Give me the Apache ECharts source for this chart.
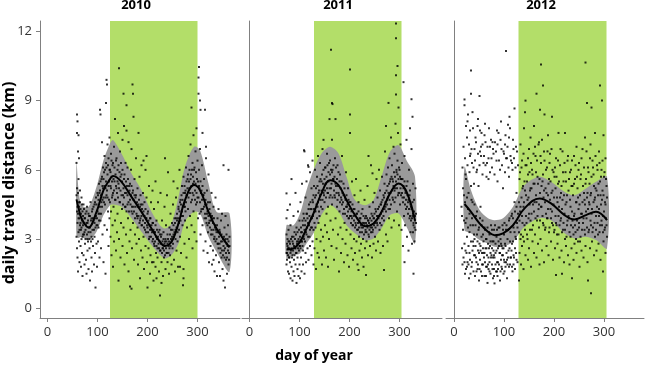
<!DOCTYPE html>
<html>
<head>
<meta charset="utf-8">
<script src="https://cdn.jsdelivr.net/npm/echarts@6/dist/echarts.min.js"></script>
<style>
  html, body { margin: 0; padding: 0; background: #fff; }
  #main { width: 645px; height: 365px; }
</style>
</head>
<body>
<div id="main"></div>
<script>
// panel titles and axis ticks
const years = ["2010", "2011", "2012"];
const xTicks = [0, 100, 200, 300];
const yTicks = [0, 3, 6, 9, 12];

// green season band per year [start day, end day]
const season2010 = [125, 300];
const season2011 = [129, 304];
const season2012 = [129, 305];

// smoothed fit with confidence band
const fitDays2010 = [58, 62, 68, 82, 98, 112, 125, 131, 148, 168, 188, 208, 225, 235, 248, 262, 275, 293, 305, 322, 338, 364];
const fitMean2010 = [4.72, 4.35, 3.9, 3.5, 4.18, 5.12, 5.6, 5.73, 5.48, 4.83, 4.18, 3.46, 2.88, 2.7, 2.88, 3.68, 4.69, 5.34, 5.12, 4.18, 3.46, 2.64];
const fitUpper2010 = [6.35, 5.2, 4.47, 4.4, 5.27, 6.42, 7.14, 7.29, 6.71, 5.84, 5.12, 4.18, 3.6, 3.46, 3.68, 4.83, 6.13, 7.0, 6.85, 5.41, 4.18, 4.11];
const fitLower2010 = [3.1, 3.05, 3.1, 2.96, 3.32, 4.04, 4.47, 4.5, 4.4, 3.9, 3.32, 2.74, 2.31, 2.16, 2.31, 2.81, 3.75, 4.18, 4.11, 3.1, 2.45, 1.58];

const fitDays2011 = [74, 88, 101, 114, 128, 144, 161, 178, 194, 211, 231, 248, 264, 281, 298, 314, 331];
const fitMean2011 = [2.55, 2.6, 2.88, 3.46, 4.11, 4.98, 5.55, 5.34, 4.69, 4.04, 3.56, 3.68, 4.18, 4.98, 5.41, 5.05, 3.8];
const fitUpper2011 = [3.6, 3.6, 4.11, 5.12, 5.99, 6.71, 7.0, 6.71, 5.7, 4.69, 4.47, 4.69, 5.7, 6.78, 7.07, 6.42, 5.7];
const fitLower2011 = [2.16, 2.31, 2.38, 2.81, 3.25, 4.04, 4.47, 4.18, 3.6, 3.25, 2.96, 3.03, 3.46, 4.04, 4.11, 3.53, 2.81];

const fitDays2012 = [21, 34, 51, 68, 81, 98, 118, 141, 171, 194, 221, 241, 264, 284, 306];
const fitMean2012 = [4.52, 4.18, 3.68, 3.32, 3.17, 3.25, 3.6, 4.33, 4.76, 4.55, 4.04, 3.85, 4.04, 4.18, 3.82];
const fitUpper2012 = [6.13, 5.12, 4.26, 3.9, 3.82, 3.9, 4.4, 5.34, 5.7, 5.48, 5.05, 4.9, 5.19, 5.48, 5.7];
const fitLower2012 = [3.39, 3.25, 2.96, 2.81, 2.67, 2.67, 2.88, 3.53, 3.9, 3.82, 3.25, 3.03, 3.1, 2.96, 2.6];

// daily observations [day of year, km] - spread / outliers
const obs2010 = [
  [58,4.9],[58,6.3],[58,3.1],[59,8.4],[59,7.6],[59,5.2],[59,2.6],[60,8.1],[60,4.4],[60,3.7],[60,2.2],[61,6.8],[61,4.1],[61,1.6],[62,7.5],[62,5.6],[62,3.3],[63,6.5],[63,4.6],[63,2.9],[64,3.9],[64,2.0],[65,5.1],[65,3.6],[66,4.3],[66,2.7],[67,3.4],[67,1.8],[68,4.8],[68,3.0],[69,3.8],[69,2.4],[70,4.2],[70,3.1],[70,1.4],
  [71,3.6],[72,4.5],[72,2.3],[73,3.2],[74,3.9],[74,1.9],[75,2.8],[76,4.1],[76,3.4],[77,2.1],[78,3.7],[78,1.5],[79,4.4],[80,3.0],[80,2.5],[81,3.8],[82,1.7],[82,3.3],[83,4.0],[84,2.6],[85,3.5],[85,1.2],[86,4.6],[87,2.9],[88,3.9],[88,2.2],[89,1.6],[90,3.4],[90,4.3],[91,2.7],[92,3.8],[93,1.9],[94,4.5],[94,3.1],[95,2.4],[96,0.9],[96,3.9],[97,4.8],[98,2.8],[98,3.6],[99,1.8],[100,4.2],[100,5.0],
  [101,2.9],[102,4.7],[102,3.5],[103,5.4],[104,2.2],[104,4.1],[105,8.6],[105,5.1],[106,8.4],[106,3.8],[107,4.9],[107,2.6],[108,5.6],[109,7.2],[109,4.4],[110,3.2],[110,5.3],[111,6.1],[112,4.8],[112,2.0],[113,5.9],[114,3.6],[114,6.6],[115,4.5],[116,5.2],[116,1.5],[117,8.9],[117,6.3],[118,9.9],[118,4.9],[119,9.7],[119,3.4],[120,5.8],[120,7.1],[121,4.2],[122,6.5],[122,2.7],[123,5.5],[124,7.4],[124,3.9],[125,6.0],[125,4.6],
  [126,5.3],[126,3.1],[127,4.2],[127,6.7],[128,2.3],[128,5.7],[129,4.8],[130,3.6],[130,6.2],[131,1.8],[131,5.0],[132,4.4],[133,7.0],[133,2.9],[134,5.5],[135,8.2],[135,3.8],[136,4.7],[137,6.4],[137,2.5],[138,5.2],[139,3.3],[140,6.0],[140,4.1],[141,7.6],[142,1.2],[142,5.4],[143,10.4],[143,3.0],[144,4.6],[145,6.8],[146,2.2],[146,5.1],[147,3.7],[148,5.8],[149,4.3],[150,7.3],[150,2.7],[151,4.9],[152,9.3],[152,3.5],[153,7.9],[153,5.6],[154,1.9],[155,4.4],[156,6.3],[157,3.2],[158,8.8],[158,7.7],[158,5.0],[159,2.4],[160,4.5],[160,6.1],
  [161,3.9],[162,7.2],[162,1.6],[163,5.3],[164,2.9],[165,4.7],[165,0.95],[166,3.4],[167,6.0],[168,6.9],[168,0.85],[168,4.2],[169,2.6],[170,9.7],[170,5.0],[171,9.3],[171,3.7],[172,8.3],[172,4.4],[173,2.1],[174,5.6],[175,3.2],[176,4.8],[177,6.5],[178,2.8],[179,4.0],[180,5.2],[180,3.5],[181,1.9],[182,7.6],[182,4.5],[183,3.0],[184,5.7],[185,1.3],[185,3.8],[186,4.9],[187,2.5],[188,6.2],[188,3.6],[189,4.3],[190,2.2],[191,5.0],[192,6.4],[192,3.1],[193,1.7],[194,4.6],[195,3.4],[196,6.0],[196,2.7],[197,3.9],[198,6.6],[198,4.8],[199,2.0],[200,0.9],[200,3.5],
  [201,4.2],[202,2.6],[203,5.3],[204,3.1],[205,1.5],[205,3.9],[206,2.3],[207,4.6],[208,3.4],[209,2.0],[210,5.1],[210,2.9],[211,3.7],[212,2.0],[212,1.2],[213,4.3],[214,2.7],[215,3.3],[216,5.5],[216,1.8],[217,2.4],[218,1.3],[218,3.8],[219,3.0],[220,2.2],[221,4.6],[222,2.8],[223,1.6],[224,3.4],[225,0.55],[225,2.5],[226,5.0],[227,3.1],[228,1.1],[228,2.0],[229,3.8],[230,2.6],[231,1.4],[232,3.3],[233,2.2],[234,4.4],[235,6.5],[235,2.9],[236,1.7],[237,3.6],[238,2.4],[239,4.9],[240,2.0],[240,3.2],
  [241,5.9],[242,2.7],[243,1.5],[244,3.5],[245,2.3],[246,4.1],[247,3.0],[248,1.9],[249,3.7],[250,2.6],[251,4.5],[252,5.5],[252,3.2],[253,2.1],[254,3.9],[255,1.6],[256,3.4],[257,4.8],[258,2.5],[259,3.8],[260,5.2],[260,2.9],[261,1.8],[262,4.3],[263,3.4],[264,6.0],[265,1.8],[265,3.1],[266,4.7],[267,2.4],[268,4.0],[269,5.3],[270,3.6],[271,1.0],[272,1.3],[272,1.7],[272,5.7],[273,4.4],[274,2.8],[275,5.0],[275,3.8],[276,4.2],[277,6.1],[278,2.2],[278,4.9],[279,3.5],[280,5.6],[281,4.3],[282,6.6],[283,3.0],[284,5.2],[285,4.0],[286,7.1],[287,5.8],[288,8.7],[288,3.6],[289,4.7],[290,6.3],[290,2.6],[291,5.4],[292,7.5],[292,4.2],[293,6.0],[294,3.3],[295,5.1],[296,6.8],[297,4.5],[298,7.8],[298,2.9],[299,5.6],[300,4.8],[300,6.4],
  [301,3.9],[302,10.0],[302,9.3],[303,10.46],[303,5.3],[304,4.1],[305,9.0],[305,6.9],[306,3.2],[306,8.6],[307,5.0],[308,4.3],[309,6.2],[310,7.6],[310,3.6],[311,4.9],[312,2.5],[313,5.6],[314,3.9],[315,8.6],[315,4.5],[316,2.9],[317,7.0],[317,6.5],[318,3.7],[319,5.1],[320,2.4],[320,4.2],[321,3.3],[322,5.8],[323,2.0],[324,3.8],[325,4.6],[326,2.7],[327,3.2],[328,5.0],[329,1.9],[330,3.9],[331,2.5],[332,4.4],[332,2.1],[333,3.0],[334,1.6],[335,3.6],[336,4.8],[337,2.3],[338,3.3],[339,1.4],[340,3.9],[341,2.8],[342,4.3],[343,2.0],[344,3.4],[345,1.4],[346,2.6],[347,3.8],[348,2.2],[349,4.1],[350,1.7],[351,3.0],[352,6.2],[352,1.2],[353,2.5],[354,3.5],[355,0.9],[355,2.9],[356,4.0],[357,2.1],[358,3.2],[359,1.5],[360,2.7],[361,3.6],[362,6.0],[362,1.9],[363,2.4],[364,3.1]
];
// observations close to the fitted curve
const obsNear2010 = [
  [59,4.2],[61,5.0],[62,3.9],[63,4.4],[64,3.4],[65,4.6],[66,3.7],[67,4.1],[68,3.5],[69,4.5],[71,3.2],[71,4.0],[72,3.7],[73,4.3],[74,3.3],[75,3.9],[76,3.0],[77,3.6],[78,4.2],[79,3.2],[80,3.7],[81,2.9],[82,4.1],[83,3.5],[84,3.0],[85,4.0],[86,3.3],[87,3.8],[88,3.1],[89,4.2],[90,3.0],[91,3.9],[92,4.4],[93,3.4],[94,3.7],[95,4.6],[96,3.5],[97,4.0],[98,4.5],[99,3.9],[100,3.6],
  [101,4.9],[102,4.1],[103,3.8],[104,5.0],[105,4.4],[106,5.5],[107,4.1],[108,4.6],[109,5.7],[110,4.7],[111,5.2],[112,5.6],[113,4.6],[114,5.3],[115,6.0],[116,4.8],[117,5.5],[118,6.1],[119,5.1],[120,4.8],[121,6.2],[122,5.3],[123,4.7],[124,6.0],[126,5.9],[127,5.2],[128,6.4],[129,5.5],[130,4.9],[131,6.3],[132,5.6],[133,5.1],[134,6.1],[135,4.7],[136,5.8],[137,5.3],[138,6.5],[139,5.0],[140,5.5],[141,4.8],[142,6.2],[143,5.2],[144,5.9],[145,4.6],[146,5.7],[147,6.3],[148,4.9],[149,5.5],[150,6.0],
  [151,4.5],[152,5.2],[153,4.8],[154,5.8],[155,5.0],[156,4.4],[157,5.5],[158,4.2],[159,5.3],[160,4.9],[161,5.6],[162,4.6],[163,4.2],[164,5.1],[165,5.4],[166,4.5],[167,4.9],[168,5.3],[169,4.4],[170,4.1],[171,5.1],[172,4.7],[173,4.2],[174,4.9],[175,3.9],[176,4.4],[177,4.9],[178,4.1],[179,4.6],[180,3.9],[181,4.4],[182,4.0],[183,4.7],[184,3.7],[185,4.4],[186,3.9],[187,4.5],[188,4.0],[189,3.6],[190,4.5],[191,3.8],[192,4.2],[193,3.5],[194,4.0],[195,3.7],[196,4.3],[197,3.3],[198,3.9],[199,3.6],[200,4.1],
  [201,3.3],[202,3.8],[203,3.0],[204,3.6],[205,3.4],[206,3.9],[207,3.1],[208,3.6],[209,3.3],[210,3.7],[211,3.0],[212,3.4],[213,2.8],[214,3.3],[215,2.9],[216,3.6],[217,3.1],[218,2.7],[219,3.4],[220,2.6],[221,3.1],[222,3.3],[223,2.6],[224,2.9],[225,3.2],[226,2.5],[227,2.8],[228,3.2],[229,2.4],[230,2.9],[231,2.6],[232,3.0],[233,2.5],[234,2.8],[235,2.3],[236,3.0],[237,2.6],[238,2.9],[239,2.4],[240,2.8],[241,3.0],[242,2.4],[243,2.9],[244,2.6],[245,3.2],[246,2.7],[247,3.4],[248,2.9],[249,3.1],[250,3.4],
  [251,2.8],[252,3.6],[253,3.1],[254,3.3],[255,3.7],[256,3.0],[257,3.9],[258,3.5],[259,4.1],[260,3.3],[261,3.9],[262,4.4],[263,3.7],[264,4.2],[265,4.6],[266,3.8],[267,4.5],[268,4.9],[269,4.2],[270,4.7],[271,4.0],[272,5.0],[273,4.5],[274,5.3],[275,4.4],[276,5.1],[277,4.6],[278,5.5],[279,4.9],[280,5.2],[281,5.8],[282,4.8],[283,5.5],[284,6.0],[285,5.0],[286,5.6],[287,4.6],[288,5.3],[289,6.0],[290,5.0],[291,5.7],[292,4.9],[293,5.5],[294,6.1],[295,4.7],[296,5.4],[297,5.9],[298,5.0],[299,4.6],
  [301,5.5],[302,4.8],[303,6.0],[304,5.2],[305,4.6],[306,5.5],[307,4.2],[308,5.1],[309,4.7],[310,5.3],[311,4.3],[312,4.9],[313,4.4],[314,5.0],[315,4.1],[316,4.7],[317,3.9],[318,4.5],[319,4.1],[320,3.6],[321,4.6],[322,4.0],[323,3.7],[324,4.3],[325,3.5],[326,4.1],[327,3.8],[328,3.4],[329,4.0],[330,3.2],[331,3.7],[332,3.4],[333,3.9],[334,3.1],[335,3.5],[336,2.9],[337,3.4],[338,3.0],[339,3.6],[340,2.8],[341,3.3],[342,2.6],[343,3.1],[344,2.8],[345,3.3],[346,2.4],[347,2.9],[348,3.2],[349,2.5],[350,2.9],[351,2.3],[352,2.7],[353,3.1],[354,2.2],[355,2.6],[356,3.0],[357,2.4],[358,2.8],[359,2.2],[360,3.0],[361,2.5],[362,2.9],[363,2.1],[364,2.7]
];

const obs2011 = [
  [74,4.98],[74,3.9],[74,3.2],[74,2.4],[74,1.9],[75,2.8],[75,2.1],[76,4.26],[76,3.0],[77,1.6],[77,2.6],[78,3.4],[79,2.2],[79,1.5],[80,2.9],[81,4.5],[81,2.0],[82,3.6],[82,1.3],[83,2.5],[84,5.6],[84,1.8],[85,3.1],[86,2.3],[86,1.2],[87,2.8],[88,4.0],[88,1.6],[89,2.1],[90,3.3],[90,1.4],[91,2.6],[92,5.0],[92,1.9],[93,2.4],[94,1.1],[94,3.5],[95,2.9],[96,1.7],[96,2.2],[97,4.2],[98,1.4],[98,3.0],[99,2.5],[100,1.9],[100,3.8],
  [101,2.7],[101,1.3],[102,4.6],[103,2.2],[103,3.3],[104,1.6],[105,5.4],[105,2.9],[106,3.8],[107,1.9],[107,2.5],[108,4.1],[109,6.85],[109,3.0],[110,1.5],[110,6.8],[111,3.6],[112,2.4],[112,4.8],[113,2.0],[114,5.5],[114,3.2],[115,4.1],[116,2.6],[117,6.2],[117,3.7],[118,6.13],[118,2.1],[119,4.5],[120,3.1],[121,5.9],[121,2.7],[122,4.3],[123,3.5],[124,5.2],[124,2.3],[125,3.9],[126,6.4],[126,2.9],[127,4.6],[128,3.4],[128,1.9],
  [129,5.3],[130,2.6],[130,4.2],[131,6.0],[132,3.5],[133,1.7],[133,4.9],[134,3.0],[135,5.7],[136,2.4],[136,4.4],[137,6.6],[138,3.7],[139,2.2],[139,5.1],[140,4.0],[141,6.3],[142,2.9],[142,4.7],[143,3.4],[144,5.5],[145,1.9],[146,6.9],[146,4.3],[147,3.1],[148,7.3],[148,5.0],[149,2.5],[150,4.6],[151,6.1],[151,3.6],[152,5.4],[153,2.2],[154,4.1],[155,6.7],[155,3.3],[156,5.0],[157,1.8],[157,4.4],[158,5.9],[159,3.0],[160,8.2],[160,4.8],[161,6.4],[162,3.8],[163,11.2],[163,5.2],[164,2.7],[165,8.9],[165,7.3],[165,4.5],[166,8.85],[166,6.0],[167,3.4],[168,5.6],[169,2.1],[170,4.9],[171,6.5],[172,8.2],[172,3.9],[173,5.3],[174,2.6],[175,4.4],[176,6.2],[177,3.2],[178,5.0],[179,1.6],[180,4.2],
  [181,5.8],[182,3.5],[183,2.4],[184,4.7],[185,6.6],[186,3.0],[187,4.1],[188,5.4],[189,2.0],[190,3.7],[191,4.8],[192,2.8],[193,5.9],[194,3.4],[195,4.4],[196,2.3],[197,5.2],[198,3.9],[199,1.8],[200,4.6],[201,10.35],[201,8.4],[201,7.6],[202,3.2],[203,4.0],[204,2.6],[205,5.5],[206,3.6],[207,2.1],[208,4.3],[209,3.0],[210,4.9],[211,2.4],[212,3.7],[213,5.6],[214,2.9],[215,4.1],[216,1.9],[217,3.4],[218,1.66],[218,4.6],[219,3.1],[220,2.5],[221,3.9],[222,5.1],[223,2.8],[224,3.5],[225,2.2],[226,4.3],[227,3.0],[228,1.8],[229,3.7],[230,4.7],[231,2.6],[232,3.3],[233,1.44],[233,4.0],[234,2.9],[235,3.6],[236,5.3],[237,2.3],[238,6.6],[238,3.8],[239,3.1],[240,4.4],
  [241,2.7],[242,3.5],[243,6.2],[244,4.1],[245,2.2],[246,5.85],[246,3.3],[247,4.6],[248,2.8],[249,3.9],[250,5.0],[251,3.1],[252,4.3],[253,2.5],[254,5.6],[255,3.7],[256,4.8],[257,2.9],[258,4.0],[259,6.0],[260,3.4],[261,5.1],[262,2.4],[263,4.5],[264,3.6],[265,5.7],[266,4.2],[267,2.7],[268,4.9],[269,1.66],[269,3.8],[270,5.4],[271,6.8],[272,4.4],[273,7.9],[273,3.2],[274,5.8],[275,4.7],[276,2.9],[277,6.1],[278,8.9],[278,5.0],[279,3.9],[280,6.5],[281,4.3],[282,5.6],[283,7.4],[284,3.5],[285,6.2],[286,4.8],[287,5.5],[288,7.0],[289,3.8],[290,6.7],[290,4.6],[291,5.2],[292,8.0],[293,12.34],[293,11.7],[293,10.1],[293,9.27],[294,5.9],[295,4.2],[296,10.5],[296,6.4],[297,7.6],[298,8.7],[298,5.0],[299,3.6],[300,6.0],
  [301,4.5],[302,7.1],[303,5.6],[304,3.4],[305,6.3],[306,4.8],[307,2.7],[308,9.8],[308,5.2],[309,4.0],[310,2.0],[310,6.6],[311,3.6],[312,5.0],[313,4.3],[314,7.3],[315,3.1],[316,5.5],[317,4.6],[318,2.5],[319,6.0],[320,3.9],[321,7.8],[321,5.1],[322,3.3],[323,4.4],[324,9.06],[324,6.9],[325,2.8],[326,8.3],[326,4.0],[327,3.3],[327,5.4],[328,1.5],[328,3.6],[329,4.7],[330,2.9],[331,3.8],[332,5.2],[333,4.1]
];
const obsNear2011 = [
  [75,2.4],[76,2.7],[77,2.3],[78,2.9],[79,2.6],[80,2.2],[81,2.8],[82,2.4],[83,3.0],[84,2.6],[85,2.2],[86,2.9],[87,2.5],[88,3.1],[89,2.7],[90,2.3],[91,3.0],[92,2.6],[93,3.2],[94,2.4],[95,2.8],[96,3.3],[97,2.6],[98,2.9],[99,3.4],[100,2.7],
  [101,3.1],[102,2.6],[103,3.5],[104,2.9],[105,3.3],[106,2.7],[107,3.6],[108,3.1],[109,3.9],[110,3.4],[111,2.9],[112,3.8],[113,3.3],[114,4.1],[115,3.5],[116,3.9],[117,3.1],[118,4.3],[119,3.6],[120,4.0],[121,3.4],[122,4.6],[123,3.9],[124,4.3],[125,3.5],[126,4.7],[127,4.0],[128,4.9],[129,4.3],[130,3.7],[131,4.8],[132,4.2],[133,5.2],[134,4.5],[135,3.9],[136,5.3],[137,4.6],[138,5.0],[139,4.2],[140,5.5],[141,4.9],[142,5.6],[143,4.4],[144,5.1],[145,5.8],[146,4.7],[147,5.4],[148,6.0],[149,4.9],[150,5.6],
  [151,5.1],[152,6.1],[153,4.8],[154,5.7],[155,5.2],[156,6.2],[157,5.0],[158,5.5],[159,6.3],[160,5.2],[161,5.8],[162,4.9],[163,6.0],[164,5.4],[165,5.9],[166,4.8],[167,5.6],[168,6.2],[169,5.1],[170,5.7],[171,4.8],[172,5.4],[173,6.1],[174,5.0],[175,5.6],[176,4.7],[177,5.3],[178,5.9],[179,4.9],[180,5.5],[181,4.6],[182,5.2],[183,4.8],[184,5.5],[185,4.5],[186,5.0],[187,4.6],[188,4.9],[189,4.3],[190,5.2],[191,4.1],[192,4.7],[193,4.4],[194,4.9],[195,4.0],[196,4.5],[197,4.2],[198,4.7],[199,3.9],[200,4.3],
  [201,4.0],[202,4.6],[203,3.7],[204,4.2],[205,3.9],[206,4.5],[207,3.6],[208,4.0],[209,3.8],[210,4.3],[211,3.5],[212,4.0],[213,3.6],[214,4.1],[215,3.4],[216,3.9],[217,3.7],[218,4.2],[219,3.5],[220,3.8],[221,3.3],[222,3.9],[223,3.6],[224,4.1],[225,3.3],[226,3.7],[227,3.5],[228,4.0],[229,3.2],[230,3.6],[231,3.9],[232,3.4],[233,3.7],[234,3.3],[235,3.9],[236,3.5],[237,3.8],[238,3.2],[239,3.7],[240,3.4],[241,3.9],[242,3.6],[243,3.3],[244,3.8],[245,3.5],[246,4.0],[247,3.4],[248,3.9],[249,3.6],[250,4.1],
  [251,3.7],[252,3.5],[253,4.2],[254,3.8],[255,4.0],[256,3.6],[257,4.3],[258,3.9],[259,4.4],[260,4.0],[261,3.7],[262,4.5],[263,4.1],[264,4.6],[265,3.9],[266,4.7],[267,4.3],[268,4.0],[269,4.8],[270,4.3],[271,5.0],[272,4.6],[273,4.2],[274,5.1],[275,4.5],[276,5.3],[277,4.8],[278,4.3],[279,5.4],[280,4.7],[281,5.5],[282,5.0],[283,4.5],[284,5.7],[285,5.1],[286,5.6],[287,4.7],[288,5.3],[289,5.9],[290,5.1],[291,5.7],[292,4.8],[293,5.5],[294,6.0],[295,5.2],[296,5.8],[297,4.9],[298,5.6],[299,6.1],[300,5.0],
  [301,5.7],[302,5.2],[303,4.9],[304,5.6],[305,5.0],[306,5.6],[307,4.6],[308,5.3],[309,4.8],[310,5.5],[311,4.5],[312,5.1],[313,4.7],[314,5.3],[315,4.4],[316,4.9],[317,4.1],[318,4.7],[319,4.3],[320,4.9],[321,4.0],[322,4.5],[323,3.8],[324,4.3],[325,3.9],[326,4.6],[327,4.1],[328,3.7],[329,4.2],[330,3.5],[331,4.0],[332,3.4],[333,3.7]
];

const obs2012 = [
  [15,4.4],[16,2.6],[17,6.1],[17,1.9],[18,3.4],[19,7.0],[19,2.2],[20,4.9],[21,9.05],[21,8.8],[21,2.8],[22,6.5],[22,1.5],[23,3.7],[24,1.7],[24,5.6],[25,2.4],[26,7.4],[26,3.1],[27,2.0],[28,8.4],[28,4.3],[29,2.7],[30,7.1],[30,1.3],[31,5.9],[31,3.3],[32,2.1],[33,6.7],[34,10.3],[34,9.3],[34,2.9],[35,4.7],[35,1.8],[36,6.3],[37,2.5],[38,7.8],[38,3.6],[39,1.6],[40,5.4],[40,2.3],
  [41,6.9],[41,3.0],[42,1.4],[43,2.7],[44,7.2],[44,4.0],[45,2.0],[46,6.0],[46,3.2],[47,1.7],[48,8.2],[48,2.5],[49,5.3],[50,3.5],[50,1.2],[51,9.2],[51,2.8],[52,7.7],[52,6.8],[52,2.1],[53,4.4],[54,6.6],[54,1.6],[55,3.1],[56,2.4],[57,7.1],[57,3.8],[58,1.9],[59,6.3],[59,2.9],[60,2.2],[61,7.5],[61,1.4],[62,3.4],[63,6.2],[63,2.6],[64,1.8],[65,5.7],[65,3.0],[66,2.3],[67,7.0],[67,1.1],[68,2.8],[69,6.5],[69,1.7],[70,3.3],[71,2.0],[72,5.9],[72,2.7],[73,1.5],[74,7.3],[74,3.6],[75,2.3],[76,6.1],[76,1.9],[77,2.9],[78,1.3],[79,6.7],[79,2.5],[80,3.4],[80,1.7],
  [81,1.08],[81,2.2],[82,7.2],[83,2.8],[84,1.6],[85,6.4],[85,3.1],[86,2.0],[87,5.5],[87,1.4],[88,2.6],[89,7.6],[89,3.5],[90,1.9],[91,2.4],[92,6.0],[92,1.2],[93,3.0],[94,2.1],[95,6.9],[95,2.7],[96,1.7],[97,3.6],[98,5.2],[98,2.3],[99,1.5],[100,6.7],[100,3.2],[101,2.0],[102,7.1],[102,2.8],[103,1.8],[104,11.15],[104,3.4],[105,2.4],[106,6.5],[106,1.3],[107,3.0],[108,7.95],[108,2.2],[109,6.1],[110,7.4],[110,3.8],[111,2.6],[112,7.8],[112,1.9],[113,3.3],[114,6.4],[115,2.5],[116,6.3],[116,4.1],[117,1.6],[118,2.9],[119,6.9],[119,3.5],[120,2.2],[121,8.66],[121,4.6],[122,1.7],[123,3.1],[124,7.0],[124,2.4],[125,5.0],[126,3.7],[127,2.0],[128,6.2],
  [130,3.3],[130,1.2],[131,5.6],[131,2.4],[132,4.2],[133,7.1],[133,3.0],[134,1.9],[135,4.8],[136,6.4],[136,2.7],[137,3.7],[138,5.3],[139,1.7],[139,4.4],[140,7.8],[140,2.9],[141,3.6],[142,8.5],[142,5.1],[143,9.0],[143,2.3],[144,4.0],[145,6.2],[146,3.2],[147,4.7],[148,2.1],[148,5.8],[149,3.9],[150,6.9],[150,2.6],[151,4.5],[152,3.4],[153,7.4],[153,5.2],[154,1.8],[155,4.1],[156,6.0],[157,2.9],[158,3.6],[159,5.4],[160,7.9],[160,2.4],[161,4.6],[162,3.2],[163,6.6],[164,4.9],[165,9.3],[165,2.2],[166,3.8],[167,5.7],[168,2.8],[169,4.3],[170,7.2],[170,3.5],[171,1.9],[172,8.6],[172,5.0],[173,3.0],[174,10.56],[174,6.3],[175,4.4],[176,2.5],[177,5.5],[178,9.65],[178,3.7],[179,4.8],[180,6.8],[180,2.0],[181,8.4],[182,3.4],[183,5.2],[184,4.1],[185,2.7],[186,6.1],[187,3.9],[188,7.5],[188,4.9],[189,2.3],[190,5.6],[191,3.5],[192,6.7],[193,4.3],[194,2.9],[195,5.0],[196,8.3],[196,3.7],[197,6.0],[198,2.1],[199,4.5],[200,3.3],
  [201,5.7],[202,2.6],[203,4.0],[204,1.44],[204,6.5],[205,3.6],[206,4.8],[207,2.8],[208,5.4],[209,7.6],[209,3.2],[210,4.4],[211,2.2],[212,6.2],[213,3.8],[214,5.0],[215,2.5],[216,1.5],[216,4.3],[217,6.8],[218,3.4],[219,5.5],[220,2.0],[221,4.1],[222,7.6],[222,3.0],[223,5.9],[224,2.7],[225,4.6],[226,3.6],[227,6.4],[228,2.3],[229,5.1],[230,3.9],[231,1.9],[232,4.7],[233,3.1],[234,6.0],[235,2.6],[236,1.3],[236,4.2],[237,5.3],[238,3.5],[239,2.1],[240,6.6],[240,4.0],[241,2.8],[242,5.6],[243,3.3],[244,4.6],[245,7.0],[245,2.4],[246,3.8],[247,5.2],[248,2.9],[249,4.3],[250,6.3],[250,3.5],[251,1.8],[252,4.9],[253,3.1],[254,5.8],[255,2.5],[256,4.1],[257,6.9],[258,3.7],[259,2.2],[260,5.0],
  [261,3.4],[262,7.4],[262,4.5],[263,10.65],[263,2.7],[264,5.6],[265,3.9],[266,8.9],[266,4.8],[267,2.0],[268,1.2],[268,6.1],[269,3.3],[270,4.6],[271,5.4],[272,2.6],[273,7.1],[273,3.8],[274,0.65],[274,5.0],[275,8.7],[275,4.1],[276,2.9],[277,6.4],[278,3.5],[279,5.8],[280,2.3],[281,4.7],[282,7.6],[282,3.1],[283,5.2],[284,4.0],[285,2.5],[286,6.2],[287,3.7],[288,4.9],[289,2.8],[290,6.8],[290,4.3],[291,3.3],[292,9.65],[292,5.5],[293,2.1],[294,4.5],[295,6.0],[296,9.0],[296,3.6],[297,5.1],[298,1.6],[298,4.0],[299,7.5],[299,2.9],[300,5.7],[301,3.4],[302,4.6],[303,6.5],[303,2.4],[304,3.9],[305,5.3],[306,3.1]
];
const obsNear2012 = [
  [16,4.0],[18,5.2],[20,3.8],[22,4.6],[23,5.8],[25,3.9],[26,4.8],[27,6.2],[28,3.5],[29,5.0],[31,4.1],[32,6.6],[33,3.6],[34,5.3],[35,6.9],[36,3.9],[37,4.6],[38,2.9],[39,6.1],[40,3.2],[41,4.5],[42,6.4],[43,3.6],[44,2.2],[45,5.9],[46,4.2],[47,2.9],[48,6.7],[49,3.4],[50,2.4],[51,6.2],[52,3.9],[53,2.7],[54,7.0],[55,3.6],[56,1.9],[57,5.8],[58,3.2],[59,2.4],[60,6.6],
  [61,3.5],[62,2.0],[63,7.2],[64,3.0],[65,2.6],[66,6.3],[67,3.5],[68,1.9],[69,5.6],[70,2.6],[71,3.2],[72,7.0],[73,2.9],[74,2.2],[75,6.5],[76,3.4],[77,1.7],[78,6.9],[79,2.9],[80,2.3],[81,5.8],[82,3.6],[83,1.9],[84,6.8],[85,2.5],[86,3.4],[87,7.1],[88,2.0],[89,2.9],[90,6.4],[91,3.5],[92,2.4],[93,7.3],[94,2.8],[95,1.8],[96,6.2],[97,2.6],[98,3.4],[99,6.8],[100,2.1],
  [101,3.7],[102,5.9],[103,2.7],[104,6.5],[105,3.6],[106,2.1],[107,7.0],[108,3.4],[109,2.5],[110,5.7],[111,3.9],[112,2.9],[113,6.6],[114,2.2],[115,4.0],[116,2.8],[117,6.0],[118,3.9],[119,2.3],[120,6.5],[121,3.3],[122,4.2],[123,6.1],[124,3.0],[125,4.4],[126,6.8],[127,3.5],[128,4.1],
  [21,2.0],[23,2.5],[26,1.8],[29,1.9],[31,2.4],[33,1.5],[36,2.0],[39,2.7],[42,2.3],[45,1.6],[48,1.9],[51,1.7],[53,2.5],[56,1.4],[58,2.6],[61,2.4],[64,1.4],[66,1.8],[69,2.2],[71,1.6],[73,2.4],[76,2.6],[78,2.2],[80,1.4],[83,2.4],[86,1.6],[88,1.7],[90,2.7],[93,1.6],[96,2.3],[99,2.6],[101,1.6],[104,2.0],[107,1.9],[110,1.8],[113,2.2],[116,1.8],[119,1.9],[122,2.6],[125,2.1],
  [24,7.9],[27,8.1],[32,7.7],[37,8.5],[43,7.4],[47,7.9],[55,7.6],[62,8.0],[70,7.8],[77,7.2],[86,7.7],[94,8.1],[103,7.5],[111,8.3],[118,7.3],
  [130,4.6],[131,3.8],[132,5.9],[133,4.4],[134,3.2],[135,6.1],[136,4.0],[137,5.2],[138,3.1],[139,6.7],[140,4.6],[141,5.5],[142,3.4],[143,6.2],[144,4.9],[145,3.7],[146,5.5],[147,3.0],[148,6.5],[149,4.8],[150,4.1],[151,5.9],[152,5.1],[153,3.8],[154,6.3],[155,5.2],[156,3.4],[157,5.8],[158,4.5],[159,6.7],[160,4.2],[161,5.4],[162,7.0],[163,3.9],[164,5.9],[165,4.6],[166,6.4],[167,4.0],[168,5.4],[169,7.1],[170,4.5],[171,5.6],[172,3.8],[173,6.6],[174,4.4],[175,5.3],[176,7.3],[177,4.0],[178,5.8],[179,3.6],[180,5.1],
  [181,6.4],[182,4.6],[183,3.5],[184,6.0],[185,5.0],[186,3.9],[187,6.8],[188,4.3],[189,5.4],[190,3.3],[191,6.3],[192,4.7],[193,5.5],[194,3.9],[195,6.9],[196,4.2],[197,5.1],[198,3.6],[199,5.9],[200,4.8],[201,3.4],[202,6.1],[203,5.2],[204,3.7],[205,5.7],[206,3.2],[207,4.6],[208,6.4],[209,4.0],[210,5.5],[211,3.6],[212,4.8],[213,6.9],[214,3.9],[215,5.3],[216,3.3],[217,4.7],[218,5.9],[219,3.7],[220,4.9],[221,6.3],[222,3.4],[223,4.5],[224,5.5],[225,3.1],[226,4.9],[227,3.8],[228,6.6],[229,4.0],[230,5.6],
  [231,3.3],[232,5.9],[233,4.4],[234,3.6],[235,5.3],[236,6.4],[237,3.8],[238,4.9],[239,3.2],[240,5.4],[241,4.1],[242,3.6],[243,6.2],[244,3.0],[245,4.6],[246,5.7],[247,3.4],[248,4.8],[249,6.0],[250,3.7],[251,4.5],[252,2.9],[253,5.6],[254,4.1],[255,6.5],[256,3.4],[257,4.6],[258,5.3],[259,3.9],[260,6.1],[261,4.7],[262,3.2],[263,5.4],[264,4.2],[265,6.8],[266,3.5],[267,5.0],[268,4.3],[269,5.9],[270,3.4],
  [271,4.5],[272,6.5],[273,4.9],[274,3.6],[275,5.7],[276,4.3],[277,3.3],[278,6.1],[279,4.6],[280,5.3],[281,3.7],[282,4.8],[283,6.6],[284,3.4],[285,5.1],[286,4.4],[287,6.0],[288,3.2],[289,5.4],[290,4.0],[291,6.3],[292,3.6],[293,4.9],[294,5.7],[295,3.8],[296,4.7],[297,6.4],[298,3.3],[299,4.9],[300,4.2],[301,5.9],[302,3.5],[303,4.5],[304,5.6],[305,3.6],[306,4.8]
];

const panels = [
  { season: season2010, days: fitDays2010, mean: fitMean2010, upper: fitUpper2010, lower: fitLower2010, obs: obs2010.concat(obsNear2010), left: 40, width: 200, xMin: -15, xMax: 385 },
  { season: season2011, days: fitDays2011, mean: fitMean2011, upper: fitUpper2011, lower: fitLower2011, obs: obs2011.concat(obsNear2011), left: 242, width: 200, xMin: -15, xMax: 385 },
  { season: season2012, days: fitDays2012, mean: fitMean2012, upper: fitUpper2012, lower: fitLower2012, obs: obs2012.concat(obsNear2012), left: 446, width: 198, xMin: -16, xMax: 380 }
];

const axisGrey = "#808080";
const font = "'Open Sans', 'Noto Sans', sans-serif";

const grid = [];
const xAxis = [];
const yAxis = [];
const series = [];
const title = [];

panels.forEach((p, i) => {
  grid.push({ left: p.left, width: p.width, top: 21, height: 297 });

  title.push({
    text: years[i],
    left: p.left + p.width / 2 - 4,
    top: -1,
    textAlign: "center",
    padding: 0,
    textStyle: { fontFamily: font, fontSize: 13, fontWeight: "bold", color: "#000" }
  });

  xAxis.push({
    type: "value",
    gridIndex: i,
    min: p.xMin,
    max: p.xMax,
    splitLine: { show: false },
    axisLine: { onZero: false, lineStyle: { color: axisGrey, width: 1 } },
    axisTick: { show: true, length: 4, customValues: xTicks, lineStyle: { color: axisGrey } },
    axisLabel: { customValues: xTicks, margin: 8, fontFamily: font, fontSize: 13, color: "#333" }
  });

  yAxis.push({
    type: "value",
    gridIndex: i,
    min: -0.42,
    max: 12.45,
    splitLine: { show: false },
    axisLine: { show: true, onZero: i > 0, lineStyle: { color: axisGrey, width: 1 } },
    axisTick: { show: i === 0, length: 4, customValues: yTicks, lineStyle: { color: axisGrey } },
    axisLabel: { show: i === 0, customValues: yTicks, margin: 8, fontFamily: font, fontSize: 13, color: "#333" }
  });

  // confidence band + season shading
  series.push({
    type: "custom",
    xAxisIndex: i,
    yAxisIndex: i,
    z: 2,
    silent: true,
    data: [[p.days[0], p.mean[0]]],
    renderItem: (params, api) => {
      const pts = [];
      p.days.forEach((d, k) => pts.push(api.coord([d, p.upper[k]])));
      for (let k = p.days.length - 1; k >= 0; k--) pts.push(api.coord([p.days[k], p.lower[k]]));
      return {
        type: "polygon",
        shape: { points: pts, smooth: 0.3 },
        style: { fill: "#9a9a9a" }
      };
    },
    markArea: {
      silent: true,
      itemStyle: { color: "#b3de69", opacity: 1 },
      data: [[{ xAxis: p.season[0] }, { xAxis: p.season[1] }]]
    }
  });

  series.push({
    type: "scatter",
    xAxisIndex: i,
    yAxisIndex: i,
    z: 3,
    symbol: "rect",
    symbolSize: 2,
    itemStyle: { color: "#000" },
    data: p.obs
  });

  series.push({
    type: "line",
    xAxisIndex: i,
    yAxisIndex: i,
    z: 4,
    smooth: 0.4,
    showSymbol: false,
    lineStyle: { color: "#000", width: 2 },
    data: p.days.map((d, k) => [d, p.mean[k]])
  });
});

const chart = echarts.init(document.getElementById("main"));
chart.setOption({
  animation: false,
  backgroundColor: "#fff",
  title,
  grid,
  xAxis,
  yAxis,
  series,
  graphic: [
    {
      type: "text",
      x: 9,
      y: 183,
      rotation: Math.PI / 2,
      style: { text: "daily travel distance (km)", font: "bold 16px " + font, fill: "#000", align: "center", verticalAlign: "middle" }
    },
    {
      type: "text",
      x: 314,
      y: 356,
      style: { text: "day of year", font: "bold 14px " + font, fill: "#000", align: "center", verticalAlign: "middle" }
    }
  ]
});
</script>
</body>
</html>
